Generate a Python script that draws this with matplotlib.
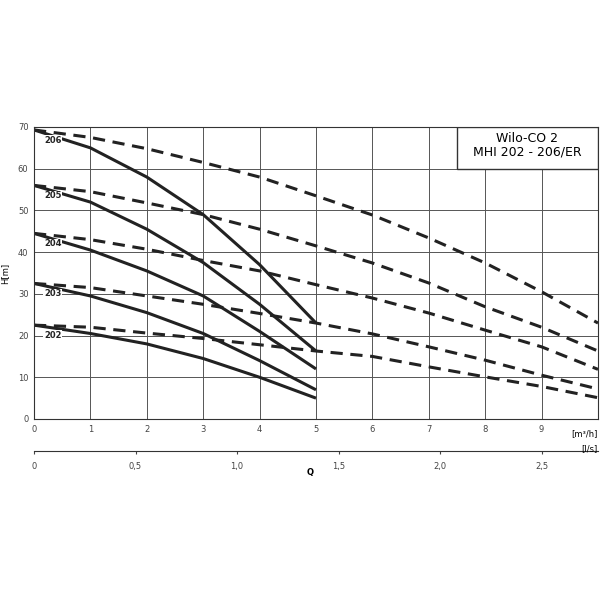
import matplotlib
matplotlib.use("Agg")
import matplotlib.pyplot as plt

q_single = [0, 1, 2, 3, 4, 5]
q_dual = [0, 1, 2, 3, 4, 5, 6, 7, 8, 9, 10]
pumps = ["206", "205", "204", "203", "202"]
h_single = {
    "206": [69.3, 65, 58, 49, 37, 23],
    "205": [56, 52, 45.5, 37.5, 27.5, 16.3],
    "204": [44.5, 40.5, 35.5, 29.5, 21, 12],
    "203": [32.5, 29.5, 25.5, 20.5, 14, 7],
    "202": [22.5, 20.5, 18, 14.5, 10, 5],
}
h_dual = {
    "206": [69.3, 67.5, 64.8, 61.5, 58, 53.5, 48.9, 43.4, 37.4, 30.5, 23],
    "205": [56, 54.5, 51.8, 49, 45.5, 41.5, 37.4, 32.6, 26.9, 22, 16.3],
    "204": [44.5, 43, 40.7, 38, 35.5, 32.2, 29, 25.4, 21.3, 17.3, 11.9],
    "203": [32.5, 31.5, 29.5, 27.5, 25.3, 23, 20.4, 17.3, 14.1, 10.5, 7.2],
    "202": [22.5, 22, 20.6, 19.3, 17.8, 16.3, 15, 12.5, 10.1, 7.8, 5.1],
}
x_ticks = [0, 1, 2, 3, 4, 5, 6, 7, 8, 9]
y_ticks = [0, 10, 20, 30, 40, 50, 60, 70]
ls_ticks = [0, 0.5, 1.0, 1.5, 2.0, 2.5]
ls_labels = ["0", "0,5", "1,0", "1,5", "2,0", "2,5"]

fig = plt.figure(figsize=(6, 6), dpi=100)
ax = fig.add_axes([34/600, 1-419/600, 564/600, 292/600])
c = "#222222"
for p in pumps:
    ax.plot(q_single, h_single[p], color=c, lw=2.2, solid_capstyle="butt")
    ax.plot(q_dual, h_dual[p], color=c, lw=2.2, ls=(0, (4, 2.5)))
    ax.text(0.18, h_single[p][0] - 2.5, p, fontsize=6, fontweight="bold", color=c,
            va="center", bbox=dict(facecolor="white", edgecolor="none", pad=0.5))
ax.set_xlim(0, 10)
ax.set_ylim(0, 70)
ax.set_xticks(x_ticks)
ax.set_yticks(y_ticks)
ax.tick_params(labelsize=6, length=0, colors="#444444", pad=4)
ax.grid(True, color="#555555", lw=0.7)
for s in ax.spines.values():
    s.set_color("#333333")
    s.set_linewidth(0.8)
ax.set_ylabel("H[m]", fontsize=6, labelpad=6)
ax.text(1.0, -0.035, "[m³/h]", transform=ax.transAxes, ha="right", va="top", fontsize=6)
ax.text(0.97, 0.97, "Wilo-CO 2\nMHI 202 - 206/ER", transform=ax.transAxes, ha="center",
        va="top", fontsize=9, linespacing=1.0)
# title box
from matplotlib.patches import Rectangle
ax.add_patch(Rectangle((7.5, 60), 2.5, 10, facecolor="white", edgecolor="#333333", lw=1, zorder=3))
ax.texts[-1].set_position((8.75, 68.7))
ax.texts[-1].set_transform(ax.transData)
ax.texts[-1].set_zorder(4)

ax2 = fig.add_axes([34/600, 1-451/600, 564/600, 0.0001])
ax2.set_xlim(0, 10/3.6)
ax2.set_xticks(ls_ticks)
ax2.set_xticklabels(ls_labels)
ax2.set_yticks([])
for k in ["top", "left", "right"]:
    ax2.spines[k].set_visible(False)
ax2.spines["bottom"].set_color("#333333")
ax2.tick_params(labelsize=6, length=2, colors="#444444", pad=6)
ax2.text(1.0, -8, "[l/s]", transform=ax2.transAxes, ha="right", fontsize=6)
fig.text(310/600, 1-472/600, "Q", fontsize=6, fontweight="bold", ha="center", va="center")
fig.savefig("out.png")
